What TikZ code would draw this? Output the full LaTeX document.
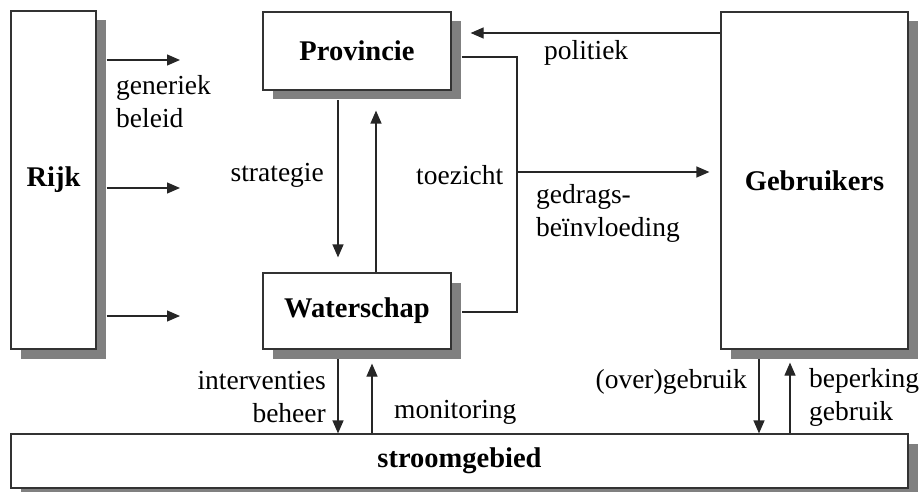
\documentclass[tikz,border=0pt]{standalone}
\usepackage{fontspec}
\setmainfont{Liberation Serif}
\usetikzlibrary{arrows.meta,shadows,calc}
\tikzset{
  box/.style={draw=black!80, line width=1.2pt, fill=white, inner sep=0pt,
    font=\fontsize{28.5}{33}\selectfont\bfseries,
    drop shadow={shadow xshift=9.5pt, shadow yshift=-9.5pt, opacity=1, fill=black!50, draw=none}},
  lbl/.style={inner sep=0pt, font=\fontsize{27.5}{33}\selectfont},
  conn/.style={draw=black!85, line width=1.2pt},
  arr/.style={conn, -{Triangle[length=13pt,width=11pt]}}
}
\begin{document}
\begin{tikzpicture}[x=1pt,y=-1pt]
\useasboundingbox (0,0) rectangle (923,492);
% boxes
\node[box, minimum width=85pt, minimum height=338pt] (rijk) at (53.5,180) {Rijk};
\node[box, minimum width=188pt, minimum height=78pt] (prov) at (357,51) {Provincie};
\node[box, minimum width=188pt, minimum height=76pt] (wat) at (357,311) {Waterschap};
\node[box, minimum width=187pt, minimum height=337pt] (geb) at (814.5,180.5) {Gebruikers};
\node[box, minimum width=897pt, minimum height=54pt] (stroom) at (459.5,461) {stroomgebied};
% free ends
\coordinate (r1) at (180,60);
\coordinate (r2) at (180,188);
\coordinate (r3) at (180,316);
\coordinate (tz) at (517,172);
% Rijk arrows
\draw[arr] (rijk.east |- r1) ++(10,0) -- (r1);
\draw[arr] (rijk.east |- r2) ++(10,0) -- (r2);
\draw[arr] (rijk.east |- r3) ++(10,0) -- (r3);
% Provincie <-> Waterschap
\draw[arr] ([shift={(-19,9.5)}]prov.south) -- ([shift={(-19,-15)}]wat.north);
\draw[arr] ([shift={(19,0)}]wat.north) -- ([shift={(19,20)}]prov.south);
% toezicht loop
\draw[conn] ([shift={(10,6)}]prov.east) -- (tz |- 0,57) -- (tz) -- (tz |- 0,312) -- ([shift={(10,1)}]wat.east);
\draw[arr, shorten >=11pt] (tz) -- (tz -| geb.west);
% politiek
\draw[arr, shorten >=19pt] (geb.west |- 0,33) -- (prov.east |- 0,33);
% Waterschap <-> stroomgebied
\draw[arr] ([shift={(-19,9.5)}]wat.south) -- ([shift={(-19,0)}]stroom.north -| wat.south);
\draw[arr] ([shift={(15,0)}]stroom.north -| wat.south) -- ([shift={(15,14)}]wat.south);
% Gebruikers <-> stroomgebied
\draw[arr] ([shift={(-55.5,9.5)}]geb.south) -- ([shift={(-55.5,0)}]stroom.north -| geb.south);
\draw[arr] ([shift={(-24.5,0)}]stroom.north -| geb.south) -- ([shift={(-24.5,13)}]geb.south);
% labels
\node[lbl, anchor=west, align=left] (l1) at (116,101.5) {generiek\\beleid};
\node[lbl, anchor=east] (l2) at (324,175) {strategie};
\node[lbl, anchor=west] (l3) at (416,175) {toezicht};
\node[lbl, anchor=west, align=left] (l4) at (536,213) {gedrags-\\beïnvloeding};
\node[lbl, anchor=west] (l5) at (544,53) {politiek};
\node[lbl, anchor=east, align=right] (l6) at (326,397) {interventies\\beheer};
\node[lbl, anchor=west] (l7) at (394,412) {monitoring};
\node[lbl, anchor=east] (l8) at (747,382) {(over)gebruik};
\node[lbl, anchor=west, align=left] (l9) at (809,397) {beperking\\gebruik};
\end{tikzpicture}
\end{document}
